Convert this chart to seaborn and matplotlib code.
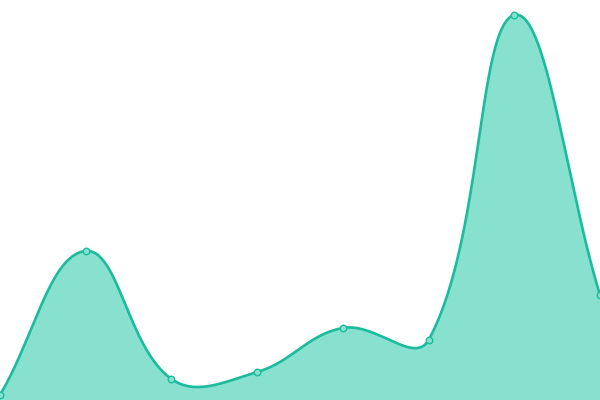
import matplotlib
matplotlib.use("Agg")
import matplotlib.pyplot as plt
import numpy as np
import pandas as pd
import seaborn as sns

# data
labels = [0, 1, 2, 3, 4, 5, 6, 7]
values = [5, 149, 21, 28, 72, 60, 385, 105]

line_color = "#1abc9c"
fill_color = "#88e0cf"

W, H = 600, 400
y_max = 400
tension = 0.4

sns.set_theme(style="white")

fig = plt.figure(figsize=(6, 4), dpi=100)
ax = fig.add_axes([0, 0, 1, 1])

# smooth curve like a canvas spline with tension, computed in pixel space
x = np.array(labels, dtype=float)
y = np.array(values, dtype=float)
sx = W / (len(x) - 1)
sy = H / y_max
px = x * sx
py = y * sy
n = len(px)
cp_prev = np.zeros((n, 2))
cp_next = np.zeros((n, 2))
for i in range(n):
    a = max(i - 1, 0)
    c = min(i + 1, n - 1)
    d01 = np.hypot(px[i] - px[a], py[i] - py[a])
    d12 = np.hypot(px[c] - px[i], py[c] - py[i])
    tot = d01 + d12
    s01 = d01 / tot if tot else 0
    s12 = d12 / tot if tot else 0
    fa, fb = tension * s01, tension * s12
    cp_prev[i] = [px[i] - fa * (px[c] - px[a]), py[i] - fa * (py[c] - py[a])]
    cp_next[i] = [px[i] + fb * (px[c] - px[a]), py[i] + fb * (py[c] - py[a])]

t = np.linspace(0, 1, 60)[:, None]
segs = []
for i in range(n - 1):
    p0 = np.array([px[i], py[i]])
    p1 = cp_next[i]
    p2 = cp_prev[i + 1]
    p3 = np.array([px[i + 1], py[i + 1]])
    b = ((1 - t) ** 3) * p0 + 3 * ((1 - t) ** 2) * t * p1 + 3 * (1 - t) * t ** 2 * p2 + t ** 3 * p3
    segs.append(b if i == 0 else b[1:])
curve = np.vstack(segs)
curve_df = pd.DataFrame({"x": curve[:, 0] / sx, "y": curve[:, 1] / sy})

ax.fill_between(curve_df["x"], curve_df["y"], 0, color=fill_color, linewidth=0)
sns.lineplot(data=curve_df, x="x", y="y", sort=False, color=line_color,
             linewidth=1.9, ax=ax, estimator=None)

pts = pd.DataFrame({"x": labels, "y": values})
sns.scatterplot(data=pts, x="x", y="y", s=22, color=fill_color,
                edgecolor=line_color, linewidth=1.0, ax=ax, zorder=3, clip_on=False)

ax.set_xlim(0, len(labels) - 1)
ax.set_ylim(0, y_max)
ax.set_axis_off()

fig.savefig("out.png", dpi=100, facecolor="white")
